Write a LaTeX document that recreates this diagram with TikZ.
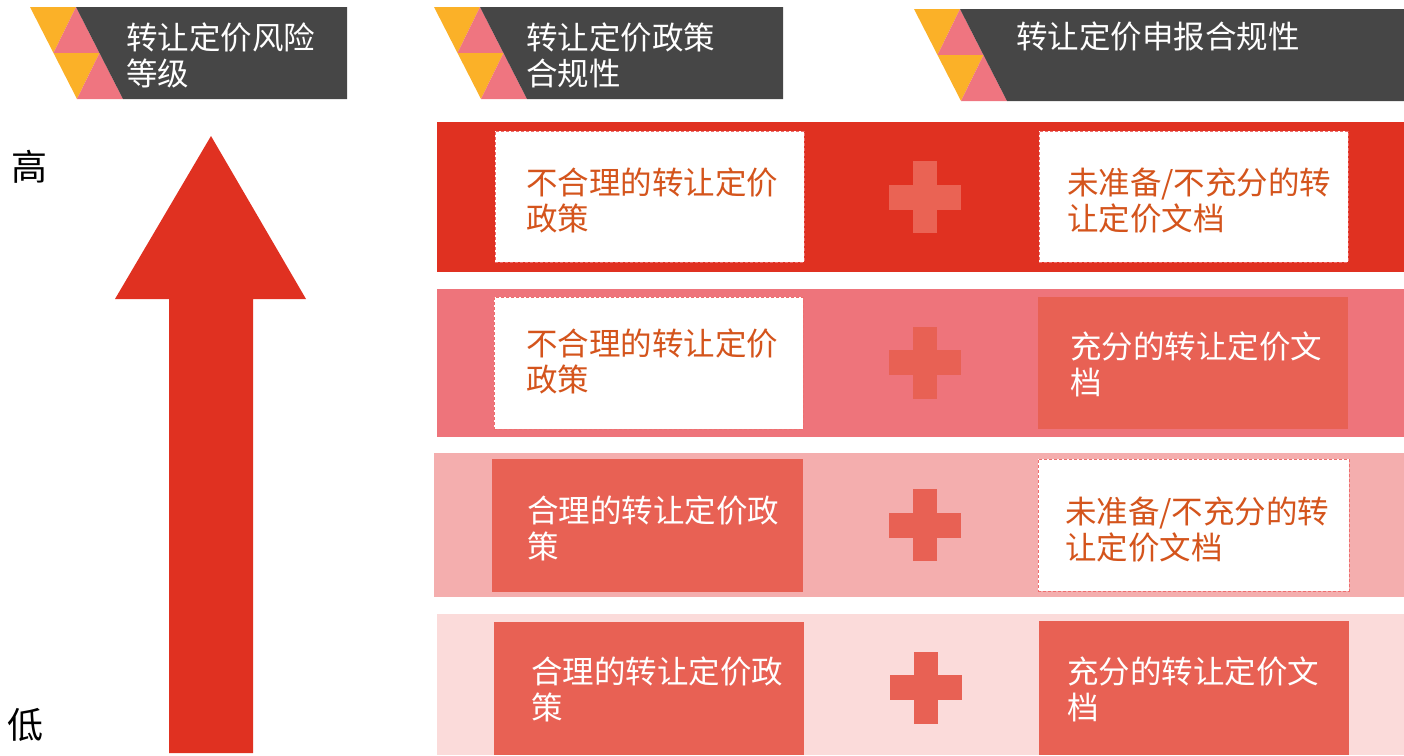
\documentclass[tikz,border=0pt]{standalone}
\usepackage{fontspec}
\setmainfont{Noto Sans CJK SC}
\definecolor{bandA}{HTML}{E03121}
\definecolor{bandB}{HTML}{EE747B}
\definecolor{bandC}{HTML}{F4AEAE}
\definecolor{bandD}{HTML}{FBDBDA}
\definecolor{boxc}{HTML}{E86154}
\definecolor{plusA}{HTML}{EA6354}
\definecolor{txto}{HTML}{D4541C}
\definecolor{dashc}{HTML}{EE6E6E}
\definecolor{darkh}{HTML}{464646}
\definecolor{horange}{HTML}{FBB128}
\definecolor{hpink}{HTML}{EF7580}
\newcommand\hdricon[4]{% x0, ytop, ybot, xright
  \fill[horange] (#1,#2) -- ({#1+46},#2) -- ({#1+23.5},{(#2+#3)/2}) -- cycle;
  \fill[hpink] ({#1+46},#2) -- ({#1+23.5},{(#2+#3)/2}) -- ({#1+69.5},{(#2+#3)/2}) -- cycle;
  \fill[horange] ({#1+23.5},{(#2+#3)/2}) -- ({#1+69.5},{(#2+#3)/2}) -- ({#1+47},#3) -- cycle;
  \fill[hpink] ({#1+69.5},{(#2+#3)/2}) -- ({#1+47},#3) -- ({#1+93},#3) -- cycle;
  \fill[darkh] ({#1+46},#2) -- (#4,#2) -- (#4,#3) -- ({#1+93},#3) -- cycle;
}
\newcommand\plussign[3]{% cx, cy, colour
  \fill[#3] ({#1-12},{#2-36}) rectangle ({#1+12},{#2+36});
  \fill[#3] ({#1-36},{#2-12.5}) rectangle ({#1+36},{#2+12.5});
}
\begin{document}
\begin{tikzpicture}[x=1pt,y=-1pt,
  every node/.style={inner sep=0pt,outer sep=0pt},
  hdrtext/.style={anchor=west,align=left,text=white,font=\fontsize{31.5}{36}\selectfont},
  boxtext/.style={anchor=west,align=left,font=\fontsize{31.5}{36}\selectfont},
  otext/.style={boxtext,text=txto},
  wtext/.style={boxtext,text=white},
  band/.style={rectangle,anchor=north west},
  whitebox/.style={rectangle,anchor=north west,fill=white,draw=dashc,line width=1pt,dash pattern=on 3pt off 2pt},
  solidbox/.style={rectangle,anchor=north west,fill=boxc},
  sidetext/.style={anchor=west,font=\fontsize{36}{40}\selectfont,text=black}]
\useasboundingbox (0,0) rectangle (1404,755);
% headers
\hdricon{30}{7}{99}{347}
\hdricon{434}{7}{99}{783}
\hdricon{914}{9}{101}{1404}
\node[hdrtext] (h1) at (126,55) {转让定价风险\\等级};
\node[hdrtext] (h2) at (526,55) {转让定价政策\\合规性};
\node[hdrtext] (h3) at (1016,37) {转让定价申报合规性};
% arrow
\fill[bandA] (211,136) -- (306,299) -- (253,299) -- (253,753) -- (169,753) -- (169,299) -- (115,299) -- cycle;
\node[sidetext] (hi) at (12,167) {高};
\node[sidetext] (lo) at (8,725) {低};
% row 1
\node[band,fill=bandA,minimum width=967pt,minimum height=150pt] (r1) at (437,122) {};
\node[whitebox,minimum width=309pt,minimum height=131pt] (l1) at (495,131) {};
\node[whitebox,minimum width=309pt,minimum height=131pt] (c1) at (1039,131) {};
\plussign{925}{197}{plusA}
\node[otext] (t1l) at (526,200.5) {不合理的转让定价\\政策};
\node[otext] (t1r) at (1067,200.5) {未准备/不充分的转\\让定价文档};
% row 2
\node[band,fill=bandB,minimum width=967pt,minimum height=148pt] (r2) at (437,289) {};
\node[whitebox,minimum width=309pt,minimum height=132pt] (l2) at (494,297) {};
\node[solidbox,minimum width=310pt,minimum height=132pt] (c2) at (1038,297) {};
\plussign{925}{362.5}{boxc}
\node[otext] (t2l) at (526,361.5) {不合理的转让定价\\政策};
\node[wtext] (t2r) at (1070,364) {充分的转让定价文\\档};
% row 3
\node[band,fill=bandC,minimum width=970pt,minimum height=144pt] (r3) at (434,453) {};
\node[solidbox,minimum width=311pt,minimum height=133pt] (l3) at (492,459) {};
\node[whitebox,minimum width=311pt,minimum height=132pt] (c3) at (1038,459) {};
\plussign{925}{525}{boxc}
\node[wtext] (t3l) at (527,528) {合理的转让定价政\\策};
\node[otext] (t3r) at (1065,530) {未准备/不充分的转\\让定价文档};
% row 4
\node[band,fill=bandD,minimum width=967pt,minimum height=141pt] (r4) at (437,614) {};
\node[solidbox,minimum width=310pt,minimum height=133pt] (l4) at (494,622) {};
\node[solidbox,minimum width=310pt,minimum height=134pt] (c4) at (1039,621) {};
\plussign{925.5}{687.5}{boxc}
\node[wtext] (t4l) at (531,689) {合理的转让定价政\\策};
\node[wtext] (t4r) at (1067,689) {充分的转让定价文\\档};
\end{tikzpicture}
\end{document}
